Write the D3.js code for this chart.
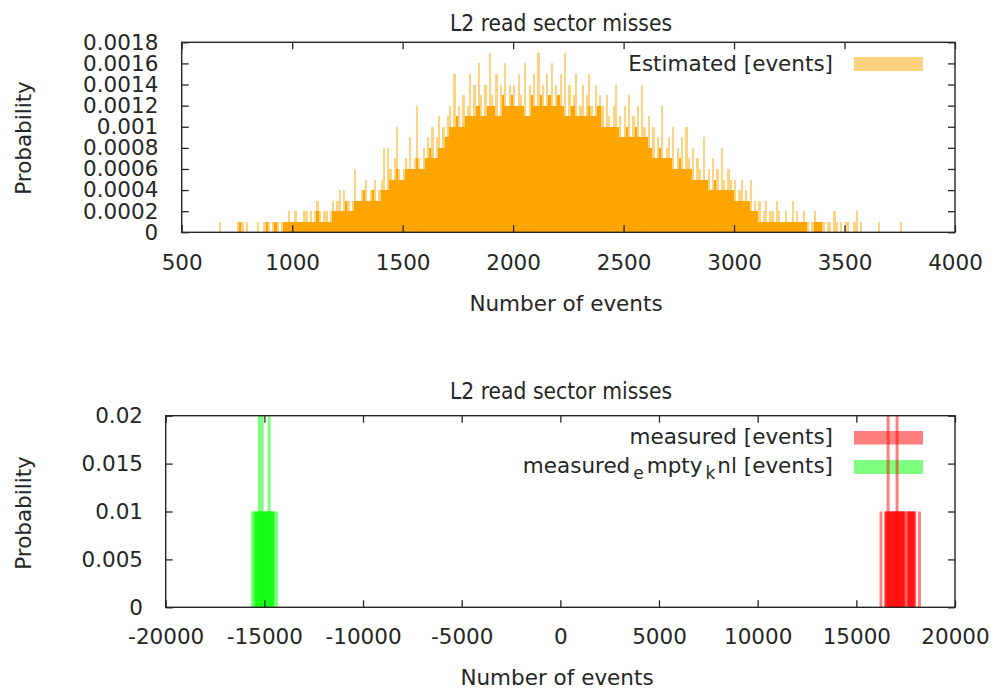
<!DOCTYPE html>
<html>
<head>
<meta charset="utf-8">
<script src="https://cdn.jsdelivr.net/npm/d3@7"></script>
<style>
  body { margin: 0; background: #fff; }
  text { font-family: "DejaVu Sans", sans-serif; fill: #262626; }
</style>
</head>
<body>
<div id="chart"></div>
<script>
// Estimated histogram: counts per 10-event bin, starting at 650 events (10000 samples)
var binStart = 650;
var binStep = 10;
var samples = 10000;
var estCounts = [
  0,0,1,0,0,0,0,0,0,0, 1,1,1,0,1,0,0,0,0,1, 0,0,1,1,1,0,1,1,1,0, 1,1,1,2,1,
  1,2,1,1,1,2,2,1,2,1, 2,3,2,1,2,2,1,2,3,2,
  3,4,2,4,3,3,2,3,6,3, 3,4,4,5,3,4,4,5,3,4,
  5,8,4,8,6,5,7,10,6,5, 6,7,6,9,6,7,12,7,6,8,
  7,9,8,10,7,9,11,8,10,9, 11,12,10,15,11,12,10,13,11,12,
  15,11,14,12,16,13,11,14,12,17, 13,12,15,11,14,13,16,12,14,13,
  14,12,15,13,12,16,11,14,13,15, 12,17,13,14,12,15,13,16,12,14,
  13,15,12,17,11,14,12,13,15,11, 12,14,11,13,15,12,11,14,12,13,
  12,10,13,11,10,12,14,10,11,9, 12,10,13,9,11,10,12,9,14,10,
  9,11,8,10,7,9,8,12,7,8, 9,7,10,6,8,7,9,6,10,7,
  6,8,5,7,6,5,9,5,6,4, 7,5,6,4,8,5,4,6,5,4,
  5,3,4,5,3,4,3,5,2,3, 2,3,1,2,3,1,2,2,1,3,
  2,1,1,2,1,1,3,1,2,1, 1,2,1,1,0,1,2,1,1,1,
  1,0,1,1,0,2,1,0,1,0, 1,1,0,0,1,2,0,1,0,0,
  0,0,0,0,0,1,0,0,0,0, 0,0,0,0,0,1,0,0,0
];

// measured [events]
var measuredEvents = [16250, 16480, 16520, 16560, 16610, 16640, 16680, 16720, 16760, 16800,
  16840, 16880, 16920, 16960, 17000, 17030, 17065, 17100, 17140, 17180, 17220, 17260,
  17300, 17340, 17380, 17420, 17460, 17600, 17640, 17680, 17720, 17760, 17800, 17840,
  17880, 17920, 17960, 18200];
var measuredProb = [0.01, 0.01, 0.01, 0.01, 0.02, 0.01, 0.01, 0.01, 0.01, 0.01,
  0.01, 0.01, 0.01, 0.01, 0.01, 0.01, 0.02, 0.01, 0.01, 0.01, 0.01, 0.01,
  0.01, 0.01, 0.01, 0.01, 0.01, 0.01, 0.01, 0.01, 0.01, 0.01, 0.01, 0.01,
  0.01, 0.01, 0.01, 0.01];

// measured_empty_knl [events]
var emptyEvents = [-15600, -15480, -15440, -15400, -15360, -15320, -15260, -15220, -15180,
  -15150, -15110, -15070, -15030, -14990, -14950, -14910, -14870, -14830, -14790, -14755,
  -14720, -14680, -14640, -14600, -14560, -14520, -14375];
var emptyProb = [0.01, 0.01, 0.01, 0.01, 0.01, 0.01, 0.02, 0.01, 0.01,
  0.01, 0.02, 0.01, 0.01, 0.01, 0.01, 0.01, 0.01, 0.01, 0.01, 0.02,
  0.01, 0.01, 0.01, 0.01, 0.01, 0.01, 0.01];

// ticks
var topXTicks = [500, 1000, 1500, 2000, 2500, 3000, 3500, 4000];
var topYTicks = [0, 0.0002, 0.0004, 0.0006, 0.0008, 0.001, 0.0012, 0.0014, 0.0016, 0.0018];
var topYLabels = ["0", "0.0002", "0.0004", "0.0006", "0.0008", "0.001", "0.0012", "0.0014", "0.0016", "0.0018"];
var botXTicks = [-20000, -15000, -10000, -5000, 0, 5000, 10000, 15000, 20000];
var botYTicks = [0, 0.005, 0.01, 0.015, 0.02];
var botYLabels = ["0", "0.005", "0.01", "0.015", "0.02"];

var svgWidth = 994;
var svgHeight = 690;
var fontSize = 21.5;
var boxWidth = 150; // events per box in the lower plot

var svg = d3.select("#chart")
    .append("svg")
    .attr("width", svgWidth)
    .attr("height", svgHeight);

// draw frame, mirrored inward ticks and labels for one panel
function drawAxes(x, y, xTicks, yTicks, yLabels, xPad, yPad) {
    var x0 = x.range()[0], x1 = x.range()[1];
    var y0 = y.range()[0], y1 = y.range()[1];

    var bottom = svg.append("g")
        .attr("transform", `translate(0, ${y0})`)
        .call(d3.axisBottom(x).tickValues(xTicks).tickSize(-7).tickPadding(xPad).tickFormat(d3.format("d")));
    var top = svg.append("g")
        .attr("transform", `translate(0, ${y1})`)
        .call(d3.axisTop(x).tickValues(xTicks).tickSize(-7).tickFormat(""));
    var left = svg.append("g")
        .attr("transform", `translate(${x0}, 0)`)
        .call(d3.axisLeft(y).tickValues(yTicks).tickSize(-7).tickPadding(yPad)
            .tickFormat((d, i) => yLabels[i]));
    var right = svg.append("g")
        .attr("transform", `translate(${x1}, 0)`)
        .call(d3.axisRight(y).tickValues(yTicks).tickSize(-7).tickFormat(""));

    [bottom, top, left, right].forEach(function (g) {
        g.select(".domain").remove();
        g.selectAll("line").attr("stroke", "#262626").attr("stroke-width", 1.3);
        g.selectAll("text")
            .style("font-family", '"DejaVu Sans", sans-serif')
            .style("font-size", fontSize + "px")
            .attr("fill", "#262626");
    });
    bottom.selectAll("text").text(d => String(d).replace("-", "-"));

    svg.append("rect")
        .attr("x", x0)
        .attr("y", y1)
        .attr("width", x1 - x0)
        .attr("height", y0 - y1)
        .attr("fill", "none")
        .attr("stroke", "#262626")
        .attr("stroke-width", 1.4);
}

function addLabels(title, titleY, xLabelY, yLabelCY, cx, xLabelX) {
    svg.append("text")
        .attr("x", cx)
        .attr("y", titleY)
        .attr("text-anchor", "middle")
        .attr("textLength", 222)
        .attr("lengthAdjust", "spacingAndGlyphs")
        .style("font-size", "22.5px")
        .text(title);
    svg.append("text")
        .attr("x", xLabelX)
        .attr("y", xLabelY)
        .attr("text-anchor", "middle")
        .style("font-size", fontSize + "px")
        .text("Number of events");
    svg.append("text")
        .attr("transform", `translate(31, ${yLabelCY}) rotate(-90)`)
        .attr("text-anchor", "middle")
        .style("font-size", fontSize + "px")
        .text("Probability");
}

// ---------- upper panel ----------
var xTop = d3.scaleLinear().domain([500, 4000]).range([181.7, 955]);
var yTop = d3.scaleLinear().domain([0, 0.0018]).range([232.3, 42.3]);

var bins = estCounts.map(function (c, i) {
    var core = Math.min(c, estCounts[i - 1] || 0, estCounts[i + 1] || 0);
    return { x0: binStart + i * binStep, p: c / samples, core: core / samples };
});

var histGroup = svg.append("g").attr("shape-rendering", "crispEdges");

// dense overlapping core
histGroup.selectAll("rect.core")
    .data(bins.filter(d => d.core > 0))
    .enter()
    .append("rect")
    .attr("class", "core")
    .attr("x", d => xTop(d.x0))
    .attr("width", d => xTop(d.x0 + binStep) - xTop(d.x0))
    .attr("y", d => yTop(d.core))
    .attr("height", d => yTop(0) - yTop(d.core))
    .attr("fill", "#ffa500");

// single semi-transparent spikes
histGroup.selectAll("rect.spike")
    .data(bins.filter(d => d.p > d.core))
    .enter()
    .append("rect")
    .attr("class", "spike")
    .attr("x", d => xTop(d.x0))
    .attr("width", d => xTop(d.x0 + binStep) - xTop(d.x0))
    .attr("y", d => yTop(d.p))
    .attr("height", d => yTop(d.core) - yTop(d.p))
    .attr("fill", "#ffa500")
    .attr("fill-opacity", 0.5);

// legend
svg.append("text")
    .attr("x", 833)
    .attr("y", 71)
    .attr("text-anchor", "end")
    .style("font-size", fontSize + "px")
    .text("Estimated [events]");
svg.append("rect")
    .attr("x", 854).attr("y", 57).attr("width", 69).attr("height", 14)
    .attr("fill", "#ffa500").attr("fill-opacity", 0.5);

drawAxes(xTop, yTop, topXTicks, topYTicks, topYLabels, 22.4, 23.4);
addLabels("L2 read sector misses", 31, 311, 138, 561, 566);

// ---------- lower panel ----------
var xBot = d3.scaleLinear().domain([-20000, 20000]).range([165.7, 955]);
var yBot = d3.scaleLinear().domain([0, 0.02]).range([607.3, 415.7]);

function drawBoxes(events, probs, color) {
    svg.append("g")
        .selectAll("rect")
        .data(events.map((v, i) => ({ v: v, p: probs[i] })))
        .enter()
        .append("rect")
        .attr("x", d => xBot(d.v - boxWidth / 2))
        .attr("width", d => xBot(d.v + boxWidth / 2) - xBot(d.v - boxWidth / 2))
        .attr("y", d => yBot(d.p))
        .attr("height", d => yBot(0) - yBot(d.p))
        .attr("fill", color)
        .attr("fill-opacity", 0.5);
}

// legend (drawn under the boxes)
svg.append("text")
    .attr("x", 833)
    .attr("y", 444)
    .attr("text-anchor", "end")
    .style("font-size", fontSize + "px")
    .text("measured [events]");
svg.append("rect")
    .attr("x", 854).attr("y", 431).attr("width", 69).attr("height", 13.5)
    .attr("fill", "#ff0000").attr("fill-opacity", 0.5);

var leg2 = svg.append("text")
    .attr("x", 833)
    .attr("y", 473)
    .attr("text-anchor", "end")
    .style("font-size", fontSize + "px");
leg2.append("tspan").text("measured");
leg2.append("tspan").attr("dx", 3).attr("dy", 6).style("font-size", "17px").text("e");
leg2.append("tspan").attr("dx", 3).attr("dy", -6).text("mpty");
leg2.append("tspan").attr("dx", 3).attr("dy", 6).style("font-size", "17px").text("k");
leg2.append("tspan").attr("dx", 2).attr("dy", -6).text("nl [events]");
svg.append("rect")
    .attr("x", 854).attr("y", 460).attr("width", 69).attr("height", 14)
    .attr("fill", "#00ff00").attr("fill-opacity", 0.5);

drawBoxes(measuredEvents, measuredProb, "#ff0000");
drawBoxes(emptyEvents, emptyProb, "#00ff00");

drawAxes(xBot, yBot, botXTicks, botYTicks, botYLabels, 21.4, 22.7);
addLabels("L2 read sector misses", 399, 685, 513, 561, 557);
</script>
</body>
</html>
